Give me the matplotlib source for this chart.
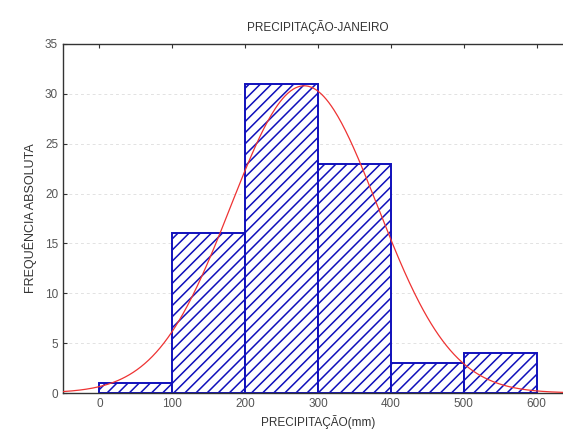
import numpy as np
import matplotlib
matplotlib.use("Agg")
import matplotlib.pyplot as plt
import matplotlib as mpl

bin_edges = [0, 100, 200, 300, 400, 500, 600]
counts = [1, 16, 31, 23, 3, 4]
fit_mean = 281.0
fit_sd = 101.0
xticks = [0, 100, 200, 300, 400, 500, 600]
yticks = [0, 5, 10, 15, 20, 25, 30, 35]

mpl.rcParams['font.family'] = ['Liberation Sans', 'DejaVu Sans']
mpl.rcParams['hatch.color'] = '#2222bb'
mpl.rcParams['hatch.linewidth'] = 1.1

fig = plt.figure(figsize=(5.63, 4.45), dpi=100)
ax = fig.add_axes([63/563, 52/445, 510/563, 349/445])

lefts = np.array(bin_edges[:-1])
widths = np.diff(bin_edges)
ax.bar(lefts, counts, width=widths, align='edge', facecolor='white',
       edgecolor='#1010bb', hatch='///', linewidth=1.4, zorder=2)

total = sum(counts)
bw = widths[0]
xs = np.linspace(-50, 650, 400)
ys = total * bw / (fit_sd * np.sqrt(2 * np.pi)) * np.exp(-0.5 * ((xs - fit_mean) / fit_sd) ** 2)
ax.plot(xs, ys, color='#ee3333', linewidth=0.9, zorder=3)

ax.set_xlim(-50, 650)
ax.set_ylim(0, 35)
ax.set_xticks(xticks)
ax.set_yticks(yticks)
ax.tick_params(direction='in', length=3, labelsize=8.5, colors='#333333', top=True)
for lab in ax.get_xticklabels() + ax.get_yticklabels():
    lab.set_color('#555555')
ax.yaxis.grid(True, color='#e2e2e2', linestyle=(0, (3, 3)), linewidth=0.7)
ax.set_axisbelow(True)
for s in ax.spines.values():
    s.set_linewidth(1.0)
    s.set_color('#333333')

ax.set_title('PRECIPITAÇÃO-JANEIRO', fontsize=8.5, color='#333333', pad=9)
ax.set_xlabel('PRECIPITAÇÃO(mm)', fontsize=8.5, color='#333333', labelpad=4)
ax.set_ylabel('FREQUÊNCIA ABSOLUTA', fontsize=9, color='#333333', labelpad=6)

fig.savefig('out.png', dpi=100)
